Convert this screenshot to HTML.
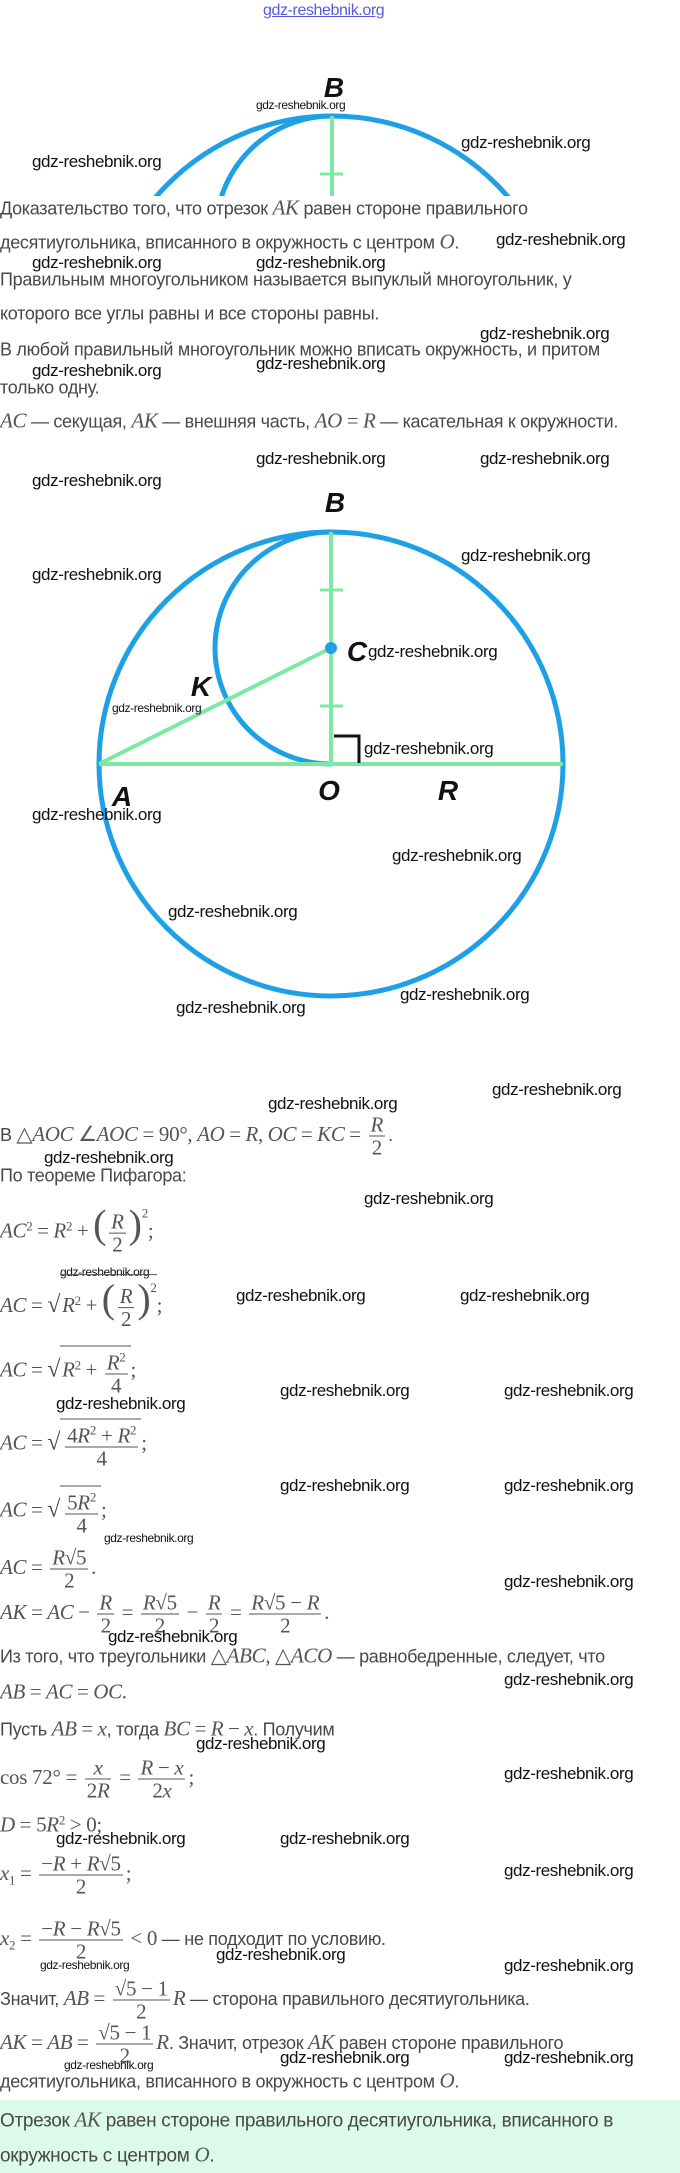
<!DOCTYPE html>
<html><head><meta charset="utf-8">
<style>
*{margin:0;padding:0;box-sizing:border-box}
body{width:680px;height:2173px;position:relative;background:#fff;overflow:hidden;font-family:"Liberation Sans",sans-serif;color:#484848}
.t{position:absolute;left:0;transform:translateY(-50%);font-size:18px;white-space:nowrap;letter-spacing:-0.3px}
.m{font-family:"Liberation Serif",serif;font-style:italic;font-size:21px;color:#555}
.n{font-family:"Liberation Serif",serif;font-size:21px;color:#555;font-style:normal}
.w{position:absolute;transform:translateY(-50%);font-family:"Liberation Sans",sans-serif;font-size:17px;color:#111;white-space:nowrap;letter-spacing:-0.4px}
.ws{font-size:12px}
.fr{display:inline-flex;flex-direction:column;vertical-align:middle;text-align:center;margin:0 3px}
.fr>span{display:block;padding:0 2px;line-height:22px}
.fr>span:first-child{border-bottom:1.3px solid #555}
.sq{display:inline-block;border-top:1.3px solid #555;padding-left:2px}
.rad{font-family:"Liberation Serif",serif;font-size:24px;font-style:normal}
sup{font-size:12px}
.green{position:absolute;left:0;top:2100px;width:680px;height:73px;background:#dcfaea}
</style></head><body>

<div class="w" style="left:263px;top:11px;color:#5a5ae0;font-size:16px;text-decoration:underline">gdz-reshebnik.org</div>

<svg style="position:absolute;left:0;top:0" width="680" height="200">
<defs><clipPath id="c1"><rect x="0" y="0" width="680" height="196"/></clipPath></defs>
<g clip-path="url(#c1)" fill="none">
<circle cx="332" cy="348" r="232" stroke="#1ea0e6" stroke-width="5"/>
<path d="M332 116 A116 116 0 0 0 216 232" stroke="#1ea0e6" stroke-width="5"/>
<line x1="332" y1="116" x2="332" y2="196" stroke="#7ee8a0" stroke-width="4"/>
<line x1="320" y1="174" x2="343" y2="174" stroke="#7ee8a0" stroke-width="3"/>
</g>
<text x="334" y="97" font-family="Liberation Sans" font-style="italic" font-weight="bold" font-size="28" text-anchor="middle" fill="#111">B</text>
</svg>
<div class="w ws" style="left:256px;top:105px">gdz-reshebnik.org</div>
<div class="w" style="left:461px;top:143px">gdz-reshebnik.org</div>
<div class="w" style="left:32px;top:162px">gdz-reshebnik.org</div>

<div class="t" style="top:208px">Доказательство того, что отрезок <span class="m">AK</span> равен стороне правильного</div>
<div class="t" style="top:242px">десятиугольника, вписанного в окружность с центром <span class="m">O</span>.</div>
<div class="w" style="left:496px;top:240px">gdz-reshebnik.org</div>
<div class="w" style="left:32px;top:263px">gdz-reshebnik.org</div>
<div class="w" style="left:256px;top:263px">gdz-reshebnik.org</div>
<div class="t" style="top:280px">Правильным многоугольником называется выпуклый многоугольник, у</div>
<div class="t" style="top:314px">которого все углы равны и все стороны равны.</div>
<div class="w" style="left:480px;top:334px">gdz-reshebnik.org</div>
<div class="t" style="top:350px">В любой правильный многоугольник можно вписать окружность, и притом</div>
<div class="w" style="left:256px;top:364px">gdz-reshebnik.org</div>
<div class="w" style="left:32px;top:371px">gdz-reshebnik.org</div>
<div class="t" style="top:388px">только одну.</div>
<div class="t" style="top:421px"><span class="m">AC</span> — секущая, <span class="m">AK</span> — внешняя часть, <span class="m">AO</span> <span class="n">=</span> <span class="m">R</span> — касательная к окружности.</div>

<div class="w" style="left:32px;top:481px">gdz-reshebnik.org</div>
<div class="w" style="left:256px;top:459px">gdz-reshebnik.org</div>
<div class="w" style="left:480px;top:459px">gdz-reshebnik.org</div>

<svg style="position:absolute;left:0;top:480px" width="680" height="560">
<g transform="translate(0,-480)" fill="none">
<circle cx="331" cy="764" r="232" stroke="#1ea0e6" stroke-width="5"/>
<path d="M331 532 A116 116 0 0 0 331 764" stroke="#1ea0e6" stroke-width="5"/>
<line x1="99" y1="764" x2="563" y2="764" stroke="#7ee8a0" stroke-width="4"/>
<line x1="331" y1="532" x2="331" y2="764" stroke="#7ee8a0" stroke-width="4"/>
<line x1="99" y1="764" x2="331" y2="648" stroke="#7ee8a0" stroke-width="4"/>
<line x1="320" y1="590" x2="343" y2="590" stroke="#7ee8a0" stroke-width="3"/>
<line x1="320" y1="706" x2="343" y2="706" stroke="#7ee8a0" stroke-width="3"/>
<polyline points="334,736 359,736 359,763" stroke="#111" stroke-width="3"/>
<circle cx="331" cy="648" r="6" fill="#1ea0e6"/>
<g font-family="Liberation Sans" font-style="italic" font-weight="bold" font-size="28" fill="#111" text-anchor="middle">
<text x="335" y="512">B</text>
<text x="357" y="661">C</text>
<text x="201" y="696">K</text>
<text x="122" y="806">A</text>
<text x="329" y="800">O</text>
<text x="448" y="800">R</text>
</g>
</g>
</svg>
<div class="w" style="left:461px;top:556px">gdz-reshebnik.org</div>
<div class="w" style="left:32px;top:575px">gdz-reshebnik.org</div>
<div class="w" style="left:368px;top:652px">gdz-reshebnik.org</div>
<div class="w ws" style="left:112px;top:708px">gdz-reshebnik.org</div>
<div class="w" style="left:364px;top:749px">gdz-reshebnik.org</div>
<div class="w" style="left:32px;top:815px">gdz-reshebnik.org</div>
<div class="w" style="left:392px;top:856px">gdz-reshebnik.org</div>
<div class="w" style="left:168px;top:912px">gdz-reshebnik.org</div>
<div class="w" style="left:400px;top:995px">gdz-reshebnik.org</div>
<div class="w" style="left:176px;top:1008px">gdz-reshebnik.org</div>

<div class="w" style="left:492px;top:1090px">gdz-reshebnik.org</div>
<div class="w" style="left:268px;top:1104px">gdz-reshebnik.org</div>
<div class="t" style="top:1136px">В <span class="n">△</span><span class="m">AOC</span> <span class="n">∠</span><span class="m">AOC</span> <span class="n">= 90°,</span> <span class="m">AO</span> <span class="n">=</span> <span class="m">R</span><span class="n">,</span> <span class="m">OC</span> <span class="n">=</span> <span class="m">KC</span> <span class="n">=</span> <span class="fr m"><span>R</span><span class="n">2</span></span>.</div>
<div class="w" style="left:44px;top:1158px">gdz-reshebnik.org</div>
<div class="t" style="top:1176px">По теореме Пифагора:</div>
<div class="w" style="left:364px;top:1199px">gdz-reshebnik.org</div>

<div class="t" style="top:1228px"><span class="m">AC</span><sup class="n" style="font-size:13px">2</sup> <span class="n">=</span> <span class="m">R</span><sup class="n" style="font-size:13px">2</sup> <span class="n">+</span> <span class="n" style="font-size:40px;font-weight:100">(</span><span class="fr m"><span>R</span><span class="n">2</span></span><span class="n" style="font-size:40px">)</span><sup class="n" style="font-size:13px;vertical-align:20px">2</sup><span class="n">;</span></div>

<div class="w ws" style="left:60px;top:1272px">gdz-reshebnik.org</div>
<div class="t" style="top:1302px"><span class="m">AC</span> <span class="n">=</span> <span class="rad">√</span><span class="sq"><span class="m">R</span><sup class="n" style="font-size:13px">2</sup> <span class="n">+</span> <span class="n" style="font-size:40px">(</span><span class="fr m"><span>R</span><span class="n">2</span></span><span class="n" style="font-size:40px">)</span><sup class="n" style="font-size:13px;vertical-align:20px">2</sup></span><span class="n">;</span></div>
<div class="w" style="left:236px;top:1296px">gdz-reshebnik.org</div>
<div class="w" style="left:460px;top:1296px">gdz-reshebnik.org</div>

<div class="t" style="top:1371px"><span class="m">AC</span> <span class="n">=</span> <span class="rad">√</span><span class="sq"><span class="m">R</span><sup class="n" style="font-size:13px">2</sup> <span class="n">+</span> <span class="fr m"><span>R<sup class="n" style="font-size:13px">2</sup></span><span class="n">4</span></span></span><span class="n">;</span></div>
<div class="w" style="left:280px;top:1391px">gdz-reshebnik.org</div>
<div class="w" style="left:504px;top:1391px">gdz-reshebnik.org</div>
<div class="w" style="left:56px;top:1404px">gdz-reshebnik.org</div>

<div class="t" style="top:1444px"><span class="m">AC</span> <span class="n">=</span> <span class="rad">√</span><span class="sq"><span class="fr m"><span><span class="n">4</span>R<sup class="n" style="font-size:13px">2</sup> <span class="n">+</span> R<sup class="n" style="font-size:13px">2</sup></span><span class="n">4</span></span></span><span class="n">;</span></div>
<div class="w" style="left:280px;top:1486px">gdz-reshebnik.org</div>
<div class="w" style="left:504px;top:1486px">gdz-reshebnik.org</div>

<div class="t" style="top:1511px"><span class="m">AC</span> <span class="n">=</span> <span class="rad">√</span><span class="sq"><span class="fr m"><span><span class="n">5</span>R<sup class="n" style="font-size:13px">2</sup></span><span class="n">4</span></span></span><span class="n">;</span></div>
<div class="w ws" style="left:104px;top:1538px">gdz-reshebnik.org</div>
<div class="t" style="top:1569px"><span class="m">AC</span> <span class="n">=</span> <span class="fr m"><span>R<span class="n">√5</span></span><span class="n">2</span></span><span class="n">.</span></div>
<div class="w" style="left:504px;top:1582px">gdz-reshebnik.org</div>

<div class="t" style="top:1614px"><span class="m">AK</span> <span class="n">=</span> <span class="m">AC</span> <span class="n">−</span> <span class="fr m"><span>R</span><span class="n">2</span></span> <span class="n">=</span> <span class="fr m"><span>R<span class="n">√5</span></span><span class="n">2</span></span> <span class="n">−</span> <span class="fr m"><span>R</span><span class="n">2</span></span> <span class="n">=</span> <span class="fr m"><span>R<span class="n">√5 −</span> R</span><span class="n">2</span></span><span class="n">.</span></div>
<div class="w" style="left:108px;top:1637px">gdz-reshebnik.org</div>
<div class="t" style="top:1656px">Из того, что треугольники <span class="n">△</span><span class="m">ABC</span><span class="n">,</span> <span class="n">△</span><span class="m">ACO</span> — равнобедренные, следует, что</div>
<div class="w" style="left:504px;top:1680px">gdz-reshebnik.org</div>
<div class="t" style="top:1692px"><span class="m">AB</span> <span class="n">=</span> <span class="m">AC</span> <span class="n">=</span> <span class="m">OC</span><span class="n">.</span></div>
<div class="t" style="top:1729px">Пусть <span class="m">AB</span> <span class="n">=</span> <span class="m">x</span>, тогда <span class="m">BC</span> <span class="n">=</span> <span class="m">R</span> <span class="n">−</span> <span class="m">x</span>. Получим</div>
<div class="w" style="left:196px;top:1744px">gdz-reshebnik.org</div>
<div class="t" style="top:1779px"><span class="n">cos 72° =</span> <span class="fr m"><span>x</span><span><span class="n">2</span>R</span></span> <span class="n">=</span> <span class="fr m"><span>R <span class="n">−</span> x</span><span><span class="n">2</span>x</span></span><span class="n">;</span></div>
<div class="w" style="left:504px;top:1774px">gdz-reshebnik.org</div>
<div class="t" style="top:1825px"><span class="m">D</span> <span class="n">= 5</span><span class="m">R</span><sup class="n" style="font-size:13px">2</sup> <span class="n">&gt; 0;</span></div>
<div class="w" style="left:56px;top:1839px">gdz-reshebnik.org</div>
<div class="w" style="left:280px;top:1839px">gdz-reshebnik.org</div>
<div class="t" style="top:1875px"><span class="m">x</span><sub class="n" style="font-size:13px">1</sub> <span class="n">=</span> <span class="fr m"><span><span class="n">−</span>R <span class="n">+</span> R<span class="n">√5</span></span><span class="n">2</span></span><span class="n">;</span></div>
<div class="w" style="left:504px;top:1871px">gdz-reshebnik.org</div>
<div class="t" style="top:1940px"><span class="m">x</span><sub class="n" style="font-size:13px">2</sub> <span class="n">=</span> <span class="fr m"><span><span class="n">−</span>R <span class="n">−</span> R<span class="n">√5</span></span><span class="n">2</span></span> <span class="n">&lt; 0</span> — не подходит по условию.</div>
<div class="w" style="left:216px;top:1955px">gdz-reshebnik.org</div>
<div class="w ws" style="left:40px;top:1965px">gdz-reshebnik.org</div>
<div class="w" style="left:504px;top:1966px">gdz-reshebnik.org</div>
<div class="t" style="top:2000px">Значит, <span class="m">AB</span> <span class="n">=</span> <span class="fr m"><span><span class="n">√5 − 1</span></span><span class="n">2</span></span><span class="m">R</span> — сторона правильного десятиугольника.</div>
<div class="t" style="top:2044px"><span class="m">AK</span> <span class="n">=</span> <span class="m">AB</span> <span class="n">=</span> <span class="fr m"><span><span class="n">√5 − 1</span></span><span class="n">2</span></span><span class="m">R</span>. Значит, отрезок <span class="m">AK</span> равен стороне правильного</div>
<div class="w ws" style="left:64px;top:2065px">gdz-reshebnik.org</div>
<div class="w" style="left:280px;top:2058px">gdz-reshebnik.org</div>
<div class="w" style="left:504px;top:2058px">gdz-reshebnik.org</div>
<div class="t" style="top:2081px">десятиугольника, вписанного в окружность с центром <span class="m">O</span>.</div>

<div class="green"></div>
<div class="t" style="top:2120px;font-size:19px">Отрезок <span class="m">AK</span> равен стороне правильного десятиугольника, вписанного в</div>
<div class="t" style="top:2155px;font-size:19px">окружность с центром <span class="m">O</span>.</div>
</body></html>
